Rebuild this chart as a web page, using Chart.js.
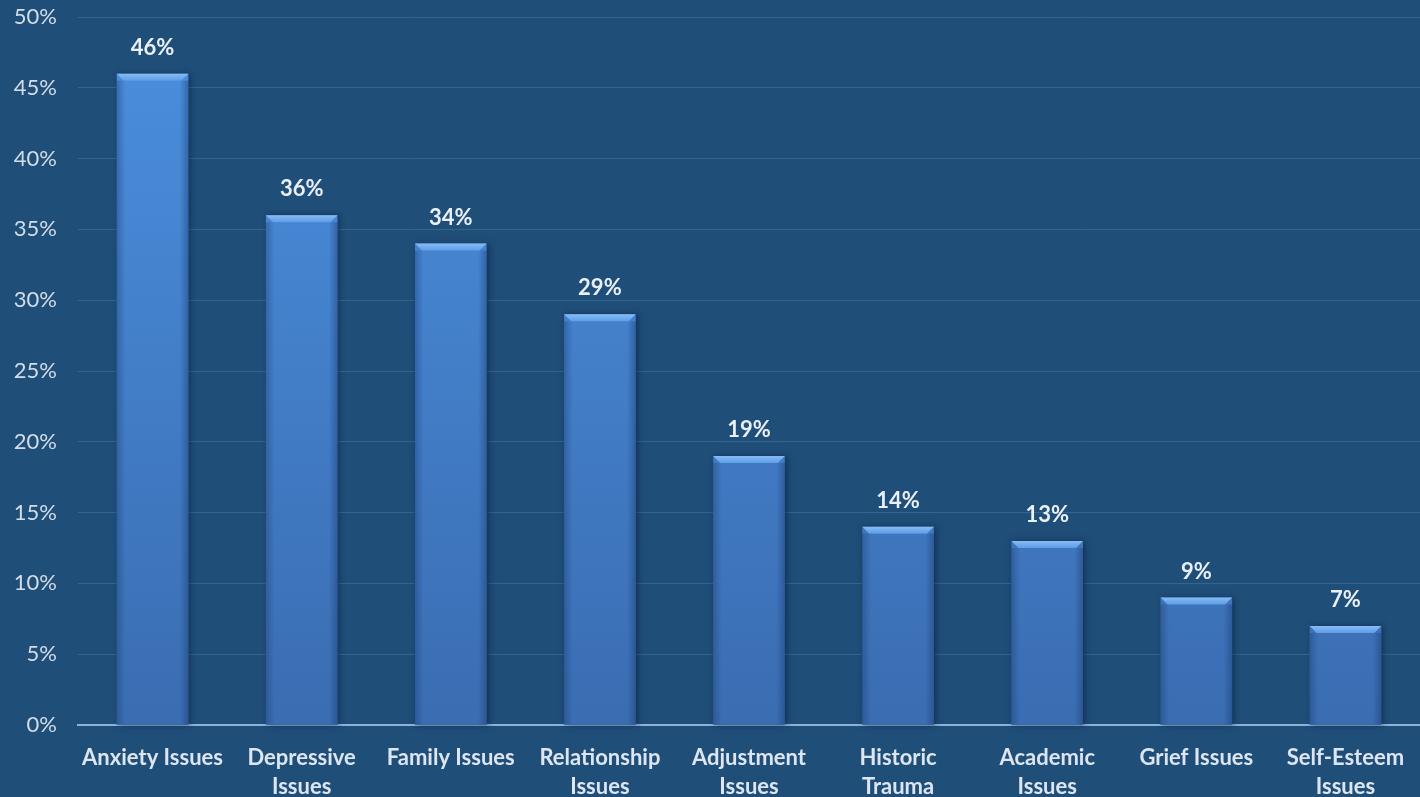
<!DOCTYPE html>
<html>
<head>
<meta charset="utf-8">
<script src="https://cdn.jsdelivr.net/npm/chart.js@4.4.1/dist/chart.umd.min.js"></script>
<style>
  html, body { margin: 0; padding: 0; background: #1f4e79; }
  #wrap { width: 1420px; height: 797px; }
</style>
</head>
<body>
<div id="wrap"><canvas id="grafico"></canvas></div>
<script>
// categorias y porcentajes
var categorias = [
    "Anxiety Issues", ["Depressive", "Issues"], "Family Issues", ["Relationship", "Issues"],
    ["Adjustment", "Issues"], ["Historic", "Trauma"], ["Academic", "Issues"], "Grief Issues",
    ["Self-Esteem", "Issues"]
];
var porcentajes = [46, 36, 34, 29, 19, 14, 13, 9, 7];
var ticksY = [0, 5, 10, 15, 20, 25, 30, 35, 40, 45, 50];

var fuente = "Lato, 'Open Sans', sans-serif";

// degradado vertical para las barras
function degradado(context) {
    var chart = context.chart;
    var area = chart.chartArea;
    if (!area) return "#4480cc";
    var g = chart.ctx.createLinearGradient(0, area.top, 0, area.bottom);
    g.addColorStop(0, "#4b8fde");
    g.addColorStop(1, "#3a6db2");
    return g;
}

// biselado arriba de cada barra + etiqueta con el valor
var biselYEtiquetas = {
    id: "biselYEtiquetas",
    beforeDatasetsDraw: function(chart) {
        var ctx = chart.ctx;
        ctx.save();
        ctx.shadowColor = "rgba(10, 30, 60, 0.6)";
        ctx.shadowBlur = 6;
        ctx.shadowOffsetX = 2;
        chart.getDatasetMeta(0).data.forEach(function(bar) {
            ctx.fillStyle = "#1f4e79";
            ctx.fillRect(bar.x - bar.width / 2, bar.y, bar.width, bar.base - bar.y);
        });
        ctx.restore();
    },
    afterDatasetsDraw: function(chart) {
        var ctx = chart.ctx;
        var meta = chart.getDatasetMeta(0);
        ctx.save();
        meta.data.forEach(function(bar, i) {
            var x0 = bar.x - bar.width / 2;
            var x1 = bar.x + bar.width / 2;
            var top = bar.y;
            // bisel superior
            var bisel = ctx.createLinearGradient(0, top, 0, top + 7);
            bisel.addColorStop(0, "#86bbf5");
            bisel.addColorStop(1, "#5f9de6");
            ctx.fillStyle = bisel;
            ctx.beginPath();
            ctx.moveTo(x0, top);
            ctx.lineTo(x1, top);
            ctx.lineTo(x1 - 7, top + 7);
            ctx.lineTo(x0 + 7, top + 7);
            ctx.closePath();
            ctx.fill();
            // bordes laterales mas oscuros
            var lado = ctx.createLinearGradient(x0, 0, x1, 0);
            lado.addColorStop(0, "rgba(20, 50, 100, 0.35)");
            lado.addColorStop(0.12, "rgba(20, 50, 100, 0)");
            lado.addColorStop(0.88, "rgba(20, 50, 100, 0)");
            lado.addColorStop(1, "rgba(20, 50, 100, 0.4)");
            ctx.fillStyle = lado;
            ctx.fillRect(x0, top + 7, bar.width, bar.base - top - 7);

            ctx.fillStyle = "#eaf0f7";
            ctx.font = "bold 22px " + fuente;
            ctx.textAlign = "center";
            ctx.textBaseline = "middle";
            ctx.fillText(porcentajes[i] + "%", bar.x, top - 26);
        });
        ctx.restore();
    }
};

var canvas = document.getElementById("grafico").getContext("2d");
window.bar = new Chart(canvas, {
    type: "bar",
    data: {
        labels: categorias,
        datasets: [{
            label: "Porcentaje",
            data: porcentajes,
            backgroundColor: degradado,
            borderWidth: 0,
            categoryPercentage: 1,
            barPercentage: 0.48
        }]
    },
    plugins: [biselYEtiquetas],
    options: {
        responsive: true,
        maintainAspectRatio: false,
        animation: false,
        layout: { padding: { top: 17, right: 0, left: 0, bottom: 0 } },
        plugins: {
            legend: { display: false },
            tooltip: { enabled: false }
        },
        scales: {
            x: {
                grid: { display: false, drawTicks: false },
                border: { color: "#8db3da", width: 2 },
                ticks: {
                    color: "#dde6f0",
                    font: { family: fuente, size: 22, weight: "bold", lineHeight: 1.3 },
                    padding: 19,
                    maxRotation: 0,
                    autoSkip: false
                },
                afterFit: function(scale) {
                    scale.height = 72;
                    scale.paddingLeft = 0;
                    scale.paddingRight = 0;
                }
            },
            y: {
                min: 0,
                max: 50,
                afterBuildTicks: function(scale) {
                    scale.ticks = ticksY.map(function(v) { return { value: v }; });
                },
                grid: { color: "#35648f", lineWidth: 1, drawTicks: false },
                border: { display: false },
                ticks: {
                    color: "#d3dde8",
                    font: { family: fuente, size: 22 },
                    padding: 21,
                    callback: function(v) { return v + "%"; }
                },
                afterFit: function(scale) {
                    scale.width = 78;
                    scale.paddingTop = 0;
                    scale.paddingBottom = 0;
                }
            }
        }
    }
});
</script>
</body>
</html>
